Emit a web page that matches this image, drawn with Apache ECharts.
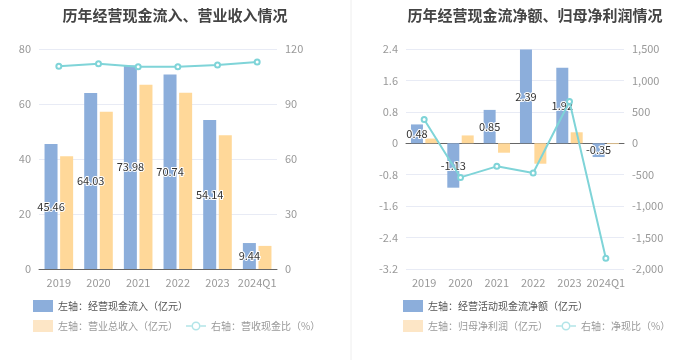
<!DOCTYPE html>
<html><head><meta charset="utf-8">
<script src="https://cdn.jsdelivr.net/npm/echarts@6/dist/echarts.min.js"></script>
<style>html,body{margin:0;padding:0;background:#fff}#c{width:700px;height:360px}</style>
</head><body><div id="c"></div>
<script>
const categories = ['2019','2020','2021','2022','2023','2024Q1'];
// left chart
const cashInflow = [45.46, 64.03, 73.98, 70.74, 54.14, 9.44];
const revenue = [41.0, 57.2, 67.0, 64.1, 48.6, 8.4];
const cashRevenueRatio = [110.6, 112.0, 110.3, 110.3, 111.3, 112.9];
const leftTicksL = [0, 20, 40, 60, 80];
const rightTicksL = [0, 30, 60, 90, 120];
// right chart
const netCashFlow = [0.48, -1.13, 0.85, 2.39, 1.92, -0.35];
const netProfit = [0.12, 0.20, -0.24, -0.52, 0.28, -0.02];
const netCashRatio = [378, -543, -367, -473, 665, -1830];
const leftTicksR = [-3.2, 2.4, 0.8];
const rightTicksR = [-2000, 1500, 500];

const BLUE = '#8caedb', ORANGE = '#ffd899', TEAL = '#7fd4d8';
const FONT = '"Noto Sans CJK SC","Noto Sans",sans-serif';
const axisLabel = {color: '#999', fontSize: 11, fontFamily: FONT};
const catLabel = {color: '#999', fontSize: 11, fontFamily: FONT, interval: 0};
const splitLine = {lineStyle: {color: '#e8ebf5'}};
const barLabel = {show: true, position: 'inside', color: '#333', fontSize: 11, fontFamily: FONT, textBorderColor: '#fff', textBorderWidth: 2};
const LINE_ICON = 'path://M0,5.3 h5.5 v1.4 h-5.5 Z M14.5,5.3 h5.5 v1.4 h-5.5 Z M14.5,6 A4.5,4.5 0 1,0 5.5,6 A4.5,4.5 0 1,0 14.5,6 Z M13,6 A3,3 0 1,1 7,6 A3,3 0 1,1 13,6 Z';
const legLine = {icon: LINE_ICON, itemStyle: {color: '#b2e5e8', borderWidth: 0}};

const chart = echarts.init(document.getElementById('c'));
chart.setOption({
  animation: false,
  textStyle: {fontFamily: FONT},
  graphic: [{type: 'line', shape: {x1: 351, y1: 0, x2: 351, y2: 360}, style: {stroke: '#eeeeee', lineWidth: 1}}],
  title: [
    {text: '历年经营现金流入、营业收入情况', left: 170, top: 3, textAlign: 'center', textStyle: {fontSize: 15, fontWeight: 'bold', color: '#444', fontFamily: FONT}},
    {text: '历年经营现金流净额、归母净利润情况', left: 530, top: 3, textAlign: 'center', textStyle: {fontSize: 15, fontWeight: 'bold', color: '#444', fontFamily: FONT}}
  ],
  legend: [
    {left: 28, top: 295, itemWidth: 20, itemHeight: 12, textStyle: {fontSize: 10, color: '#555'}, data: [{name: '左轴：经营现金流入（亿元）', icon: 'rect'}]},
    {left: 28, top: 315, itemWidth: 20, itemHeight: 12, itemGap: 8, textStyle: {fontSize: 10, color: '#999'},
      data: [{name: '左轴：营业总收入（亿元）', icon: 'rect', itemStyle: {color: '#fde6c6'}}, Object.assign({name: '右轴：营收现金比（%）'}, legLine)]},
    {left: 398, top: 295, itemWidth: 20, itemHeight: 12, textStyle: {fontSize: 10, color: '#555'}, data: [{name: '左轴：经营活动现金流净额（亿元）', icon: 'rect'}]},
    {left: 398, top: 315, itemWidth: 20, itemHeight: 12, itemGap: 8, textStyle: {fontSize: 10, color: '#999'},
      data: [{name: '左轴：归母净利润（亿元）', icon: 'rect', itemStyle: {color: '#fde6c6'}}, Object.assign({name: '右轴：净现比（%）'}, legLine)]}
  ],
  grid: [
    {left: 39, right: 423, top: 49, bottom: 91},
    {left: 406, right: 76, top: 49, bottom: 91}
  ],
  xAxis: [
    {type: 'category', gridIndex: 0, data: categories, axisLine: {lineStyle: {color: '#666'}}, axisTick: {alignWithLabel: true, interval: 0, lineStyle: {color: '#666'}}, axisLabel: catLabel},
    {type: 'category', gridIndex: 1, data: categories, axisLine: {show: false, onZero: false}, axisTick: {show: false}, axisLabel: catLabel, position: 'bottom'},
    {type: 'category', gridIndex: 1, data: categories, axisLine: {onZero: true, lineStyle: {color: '#666'}}, axisTick: {alignWithLabel: true, interval: 0, lineStyle: {color: '#666'}}, axisLabel: {show: false}}
  ],
  yAxis: [
    {type: 'value', gridIndex: 0, min: leftTicksL[0], max: leftTicksL[leftTicksL.length-1], interval: leftTicksL[1]-leftTicksL[0], axisLabel: axisLabel, splitLine: splitLine, axisLine: {show: false}},
    {type: 'value', gridIndex: 0, min: rightTicksL[0], max: rightTicksL[rightTicksL.length-1], interval: rightTicksL[1]-rightTicksL[0], axisLabel: axisLabel, splitLine: {show: false}, axisLine: {show: false}},
    {type: 'value', gridIndex: 1, min: leftTicksR[0], max: leftTicksR[1], interval: leftTicksR[2], axisLabel: axisLabel, splitLine: splitLine, axisLine: {show: false}},
    {type: 'value', gridIndex: 1, min: rightTicksR[0], max: rightTicksR[1], interval: rightTicksR[2], axisLabel: Object.assign({}, axisLabel, {formatter: v => v.toLocaleString('en-US')}), splitLine: {show: false}, axisLine: {show: false}}
  ],
  series: [
    {name: '左轴：经营现金流入（亿元）', type: 'bar', xAxisIndex: 0, yAxisIndex: 0, data: cashInflow, barWidth: 13, barGap: '20%', itemStyle: {color: BLUE}, label: barLabel},
    {name: '左轴：营业总收入（亿元）', type: 'bar', xAxisIndex: 0, yAxisIndex: 0, data: revenue, barWidth: 13, barGap: '20%', itemStyle: {color: ORANGE}},
    {name: '右轴：营收现金比（%）', type: 'line', xAxisIndex: 0, yAxisIndex: 1, data: cashRevenueRatio, symbol: 'emptyCircle', symbolSize: 5, itemStyle: {color: TEAL}, lineStyle: {color: TEAL, width: 2}},
    {name: '左轴：经营活动现金流净额（亿元）', type: 'bar', xAxisIndex: 1, yAxisIndex: 2, data: netCashFlow, barWidth: 12, barGap: '20%', itemStyle: {color: BLUE}, label: barLabel},
    {name: '左轴：归母净利润（亿元）', type: 'bar', xAxisIndex: 1, yAxisIndex: 2, data: netProfit, barWidth: 12, barGap: '20%', itemStyle: {color: ORANGE}},
    {name: '右轴：净现比（%）', type: 'line', xAxisIndex: 1, yAxisIndex: 3, data: netCashRatio, symbol: 'emptyCircle', symbolSize: 5, itemStyle: {color: TEAL}, lineStyle: {color: TEAL, width: 2}, z: 5}
  ]
});
</script></body></html>
